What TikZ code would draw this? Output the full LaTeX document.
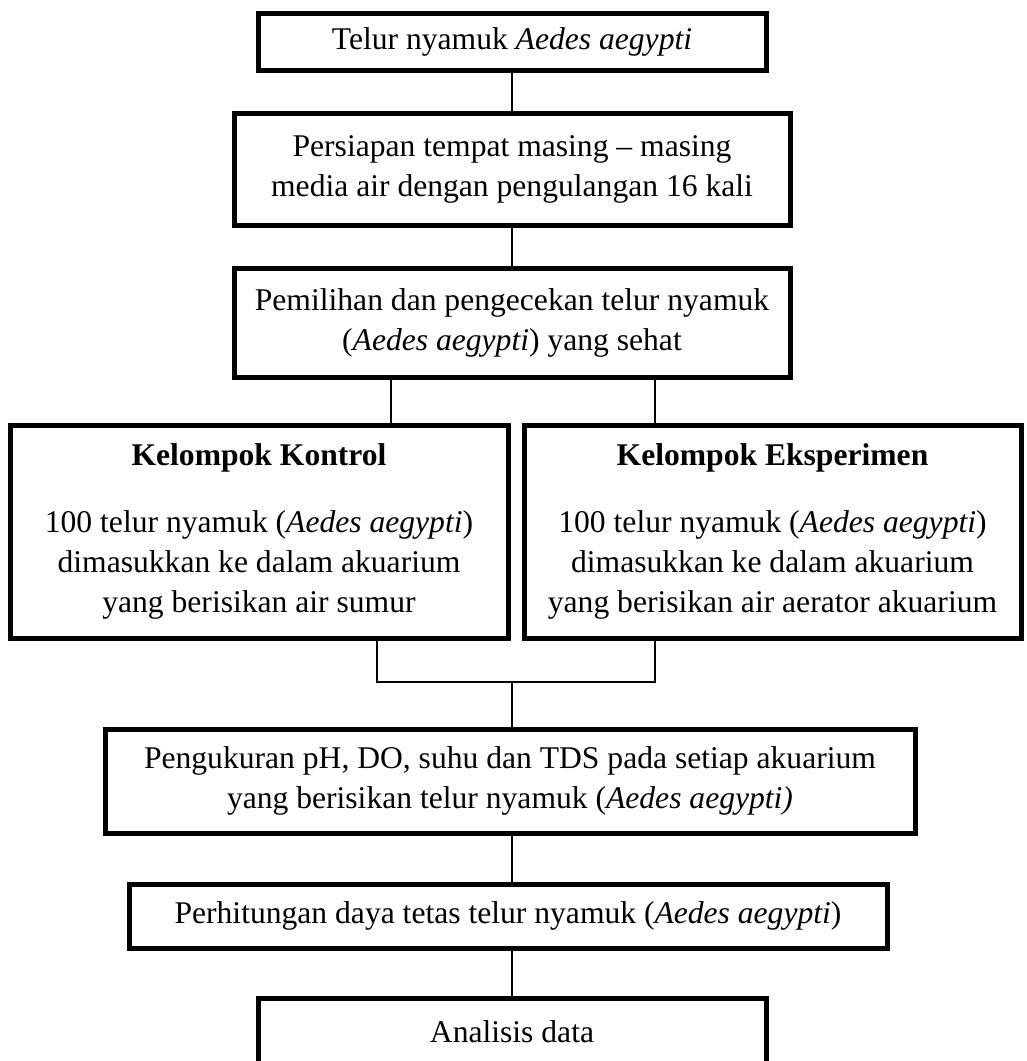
\documentclass[tikz,border=0pt]{standalone}
\usepackage{fontspec}
\setmainfont{Liberation Serif}
\usetikzlibrary{positioning}

\newcommand{\flowfont}{\fontsize{15.8}{20}\selectfont}
\newcommand{\aedes}{\textit{Aedes aegypti}}

\tikzset{
  flowbox/.style={draw, line width=2.5pt, align=center, inner sep=0pt, font=\flowfont},
  link/.style={line width=0.75pt},
}

\begin{document}
\begin{tikzpicture}[x=0.5pt, y=-0.5pt]
	\useasboundingbox (0,0) rectangle (1027,1061);

	\node[flowbox, minimum width=254pt, minimum height=28.5pt] (telur) at (512,41.5) {Telur nyamuk \aedes};
	\node[flowbox, minimum width=278pt, minimum height=56pt] (persiapan) at (512,169) {Persiapan tempat masing -- masing\\ media air dengan pengulangan 16 kali};
	\node[flowbox, minimum width=278pt, minimum height=54.5pt] (pemilihan) at (512,322.5) {Pemilihan dan pengecekan telur nyamuk\\ (\aedes) yang sehat};

	\node[flowbox, minimum width=249pt, minimum height=106.5pt] (kontrol) at (259,531.5) {\textbf{Kelompok Kontrol}\\[13.5pt] 100 telur nyamuk (\aedes)\\ dimasukkan ke dalam akuarium\\ yang berisikan air sumur};
	\node[flowbox, minimum width=248.5pt, minimum height=106.5pt] (eksperimen) at (772.5,531.5) {\textbf{Kelompok Eksperimen}\\[13.5pt] 100 telur nyamuk (\aedes)\\ dimasukkan ke dalam akuarium\\ yang berisikan air aerator akuarium};

	\node[flowbox, minimum width=405pt, minimum height=52pt] (pengukuran) at (510,781) {Pengukuran pH, DO, suhu dan TDS pada setiap akuarium\\ yang berisikan telur nyamuk (\textit{Aedes aegypti)}};
	\node[flowbox, minimum width=379pt, minimum height=32pt] (perhitungan) at (508,916) {Perhitungan daya tetas telur nyamuk (\aedes)};
	\node[flowbox, minimum width=254pt, minimum height=34pt] (analisis) at (512,1032) {Analisis data};

	% connectors
	\draw[link] (telur) -- (persiapan);
	\draw[link] (persiapan) -- (pemilihan);
	\draw[link] (391,0 |- pemilihan.south) -- (391,0 |- kontrol.north);
	\draw[link] (655,0 |- pemilihan.south) -- (655,0 |- eksperimen.north);

	\coordinate (joinL) at (377,682);
	\coordinate (joinR) at (655,682);
	\coordinate (join) at (512,682);
	\draw[link] (kontrol.south -| joinL) -- (joinL) -- (joinR) -- (eksperimen.south -| joinR);
	\draw[link] (join) -- (join |- pengukuran.north);
	\draw[link] (512,0 |- pengukuran.south) -- (512,0 |- perhitungan.north);
	\draw[link] (512,0 |- perhitungan.south) -- (512,0 |- analisis.north);
\end{tikzpicture}
\end{document}
